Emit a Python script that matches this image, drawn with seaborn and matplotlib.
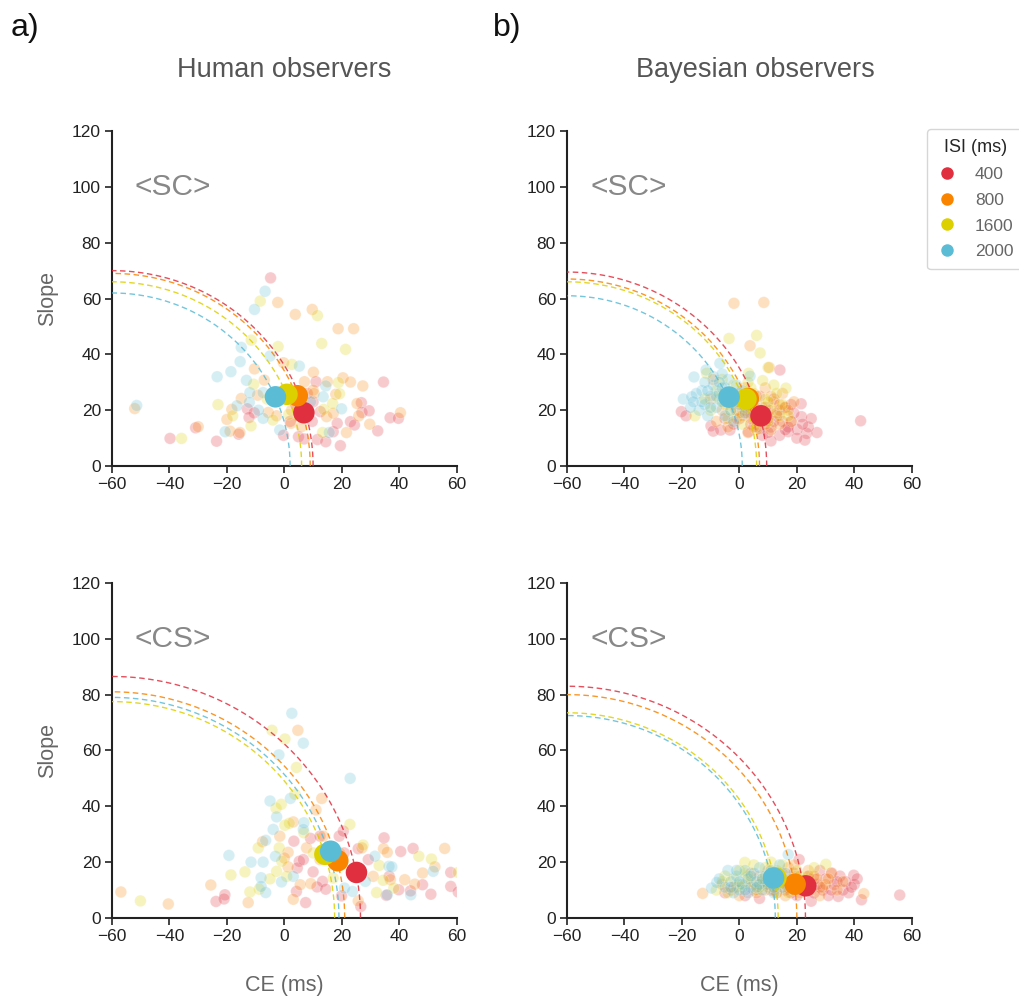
import numpy as np
import pandas as pd
import matplotlib
matplotlib.use("Agg")
import matplotlib.pyplot as plt
from matplotlib.lines import Line2D
import seaborn as sns

# ISI conditions and colours
isi_levels = [400, 800, 1600, 2000]
isi_colors = {400: "#E0303F", 800: "#F98400", 1600: "#DDD000", 2000: "#5BBCD6"}

# ---- individual observers: (CE, slope) per ISI ----
# Human, <SC>
hum_sc = {
    400: [(-4.8, 67.4), (11.0, 30.2), (34.5, 30.1), (-12.9, 20.5), (-10.5, 19.1), (-12.3, 17.4),
          (-15.9, 11.4), (-23.6, 8.9), (-30.9, 13.7), (-39.8, 9.9), (-0.3, 11.0), (4.9, 10.5),
          (6.9, 9.7), (9.7, 16.0), (11.5, 9.5), (14.4, 8.7), (17.0, 12.3), (18.4, 15.3),
          (19.5, 7.3), (23.0, 15.9), (24.4, 14.7), (32.5, 12.6), (26.8, 22.7), (27.0, 19.2),
          (29.5, 19.8), (36.8, 17.3), (39.7, 17.1), (10.0, 23.0), (4.0, 22.0), (8.0, 26.0),
          (2.0, 16.0), (12.5, 19.5)],
    800: [(-2.3, 58.6), (3.8, 54.3), (9.7, 56.1), (18.7, 49.2), (24.1, 49.2), (-0.3, 37.0),
          (-10.4, 34.8), (10.1, 33.6), (-7.0, 30.8), (7.0, 30.2), (15.0, 30.2), (20.4, 31.6),
          (23.0, 30.1), (27.3, 28.7), (10.0, 27.2), (-9.3, 25.4), (-15.0, 24.2), (17.9, 25.7),
          (-52.1, 20.6), (-18.3, 20.3), (-20.0, 16.7), (-5.6, 19.2), (-2.7, 18.0), (-18.9, 12.5),
          (-15.5, 12.0), (-30.0, 14.1), (2.3, 15.3), (5.9, 14.1), (21.6, 12.0), (29.7, 15.0),
          (25.3, 22.4), (25.9, 18.0), (40.4, 19.1), (14.7, 17.7), (17.0, 18.9), (10.3, 26.0),
          (2.5, 20.0), (6.0, 24.0)],
    1600: [(-8.4, 59.1), (11.5, 53.9), (13.0, 43.9), (21.3, 41.8), (-11.5, 45.1), (-2.2, 42.8),
           (2.6, 36.4), (-10.7, 29.3), (18.8, 29.9), (19.2, 25.9), (-23.1, 22.0), (-18.0, 18.0),
           (-4.0, 16.5), (-11.6, 14.4), (-35.8, 9.9), (13.3, 12.0), (13.7, 20.3), (16.8, 22.4),
           (1.5, 18.5), (-6.0, 24.0), (7.0, 20.0)],
    2000: [(-6.7, 62.6), (-10.4, 56.1), (-15.0, 42.5), (-5.0, 39.4), (-15.4, 37.4), (5.2, 35.8),
           (-18.6, 33.8), (-23.4, 32.0), (-13.2, 30.7), (14.4, 28.7), (-12.0, 26.3), (-7.4, 26.3),
           (13.5, 24.8), (-12.2, 22.8), (-16.5, 21.6), (-51.4, 21.7), (-7.4, 17.1), (-20.6, 12.3),
           (-1.6, 12.9), (15.6, 12.0), (19.9, 20.5), (9.1, 23.0), (-9.0, 20.0)],
}

# Bayesian, <SC>
bay_sc = {
    400: [(14.1, 34.4), (21.5, 22.3), (21.6, 17.7), (23.4, 11.7), (27.0, 12.0), (22.8, 9.3),
          (42.2, 16.2), (-20.2, 19.5), (-18.6, 18.0), (-9.9, 14.4), (-9.1, 12.5), (-6.5, 12.9),
          (-3.3, 12.9), (3.1, 12.3), (7.1, 13.5), (17.0, 12.3), (20.1, 13.1), (18.1, 15.9),
          (0, 17), (2, 20), (4, 15), (5, 22), (6, 18), (8, 11), (9, 16), (10, 20), (11, 14),
          (12, 24), (13, 18), (14, 11), (15, 16), (16, 21), (19, 19), (-2, 15), (-5, 17),
          (1, 24), (7, 25), (17, 14), (24, 14), (20, 10), (11, 9), (25, 17),
          (3, 19), (6, 14), (9, 21), (12, 16), (14, 20), (16, 13), (18, 22), (10, 12), (-1, 20),
          (22, 15)],
    800: [(-1.9, 58.3), (8.5, 58.6), (3.7, 43.1), (10.4, 35.3), (-9.1, 31.0), (-6, 20), (-3, 25),
          (-1, 17), (1, 22), (2, 28), (4, 19), (5, 14), (6, 25), (8, 21), (9, 28), (10, 17),
          (12, 23), (13, 19), (15, 26), (16, 21), (18, 16), (-8, 16), (-4, 14), (0, 26), (3, 12),
          (7, 16), (11, 13), (14, 15), (19, 23), (-10, 24),
          (-2, 22), (1, 18), (5, 24), (7, 19), (9, 15), (11, 25), (14, 22), (17, 20), (-5, 26),
          (4, 17)],
    1600: [(6.0, 46.8), (-3.6, 45.7), (7.2, 40.5), (10.0, 35.3), (-11.4, 33.2), (3.2, 33.2),
           (8.1, 30.6), (16.2, 27.9), (-15.5, 18.0), (-8, 27), (-5, 22), (-2, 29), (0, 19),
           (2, 25), (4, 28), (5, 21), (7, 17), (9, 24), (11, 20), (13, 26), (15, 22), (-10, 20),
           (-4, 17), (1, 15), (6, 13), (10, 16), (12, 29), (-6, 31), (3, 30), (17, 18), (-12, 24),
           (-7, 24), (-3, 20), (0, 25), (2, 21), (5, 26), (8, 20), (10, 23), (14, 18), (-1, 23),
           (6, 16)],
    2000: [(-15.8, 31.9), (-11.6, 34.4), (-6.8, 36.8), (-19.5, 24.0), (-16.6, 24.8), (-13, 27),
           (-12, 22), (-10, 25), (-9, 29), (-8, 21), (-7, 26), (-6, 23), (-5, 28), (-4, 31),
           (-3, 20), (-2, 26), (-1, 29), (0, 22), (1, 27), (-14, 20), (-11, 18), (-17, 21),
           (3.7, 32.2), (-5, 18), (-9, 32), (2, 19), (-12, 30), (-6, 33), (4, 25), (-2, 16),
           (-15, 26), (-13, 23), (-10, 21), (-8, 25), (-6, 28), (-4, 24), (-1, 24), (-7, 30),
           (-11, 27), (-16, 23)],
}

# Human, <CS>
hum_cs = {
    400: [(3.3, 27.5), (9.1, 28.5), (12.4, 29.3), (19.1, 29.3), (20.5, 31.1), (34.7, 28.7),
          (5.2, 20.3), (4.5, 17.9), (6.6, 20.9), (10.0, 16.5), (13.3, 13.1), (11.4, 11.1),
          (14.4, 10.3), (4.2, 9.5), (7.4, 5.5), (-20.7, 8.3), (-23.8, 5.9), (-21.0, 6.8),
          (26.6, 4.1), (19.9, 7.9), (20.8, 23.3), (25.7, 24.8), (29.2, 20.9), (40.5, 23.8),
          (44.8, 24.9), (57.9, 16.3), (57.9, 11.3), (60.5, 9.3), (51.0, 8.5), (48.1, 11.9),
          (43.9, 9.7), (39.8, 10.1), (35.5, 8.1), (36.5, 14.9)],
    800: [(4.7, 67.2), (13.0, 42.8), (11.0, 38.7), (3.1, 34.4), (-7.6, 27.3), (-1.6, 29.3),
          (13.5, 29.3), (1.3, 23.5), (0.0, 21.5), (1.3, 18.3), (7.7, 25.1), (12.4, 20.9),
          (5.5, 11.9), (9.2, 12.3), (3.1, 6.7), (-25.6, 11.8), (-12.6, 5.5), (-56.9, 9.3),
          (-40.4, 5.0), (25.7, 6.1), (19.3, 23.3), (27.0, 25.1), (34.5, 24.8), (35.8, 23.5),
          (52.4, 18.3), (55.8, 24.9), (48.1, 16.1), (45.4, 12.1), (41.9, 13.7), (36.9, 13.7),
          (30.9, 14.9)],
    1600: [(-4.3, 67.2), (0.2, 64.1), (4.2, 53.9), (3.7, 44.3), (-2.9, 39.3), (-1.1, 40.7),
           (0.2, 33.2), (1.7, 33.9), (6.8, 30.5), (22.8, 33.5), (-9.1, 25.1), (-1.8, 25.1),
           (-0.9, 20.3), (10.0, 23.3), (-13.7, 16.5), (-18.6, 15.4), (-2.7, 16.7), (-5.0, 14.0),
           (0.8, 14.9), (-50.1, 6.1), (-12.0, 9.3), (-8.8, 10.3), (17.0, 14.3), (27.4, 26.1),
           (33.0, 18.8), (46.8, 22.1), (51.2, 21.1), (60.5, 16.3), (32.1, 9.1), (34.4, 13.5),
           (38.1, 10.7)],
    2000: [(2.6, 73.3), (6.6, 62.6), (-1.9, 58.4), (22.9, 50.0), (2.1, 42.8), (-5.0, 41.9),
           (-2.7, 36.2), (6.8, 34.1), (6.6, 31.7), (-3.9, 31.7), (-6.5, 27.8), (-3.1, 22.1),
           (-7.4, 20.0), (-11.6, 20.0), (-19.3, 22.4), (3.1, 14.9), (-8.1, 14.4), (-1.0, 12.9),
           (-6.5, 9.1), (-8.1, 11.3), (20.9, 10.7), (23.7, 9.5), (31.5, 22.1), (36.4, 18.5),
           (37.4, 18.3), (51.8, 16.7), (44.0, 8.3), (35.8, 8.3), (28.2, 13.1)],
}

# Bayesian, <CS>
bay_cs = {
    400: [(55.8, 8.2), (39.8, 15.3), (42.5, 6.5), (20.8, 20.9), (32.1, 16.1), (34.4, 7.7),
          (-5, 9), (-2, 11), (2, 8), (5, 10), (9, 12), (13, 9), (15, 14), (17, 11), (19, 16),
          (20, 8), (21, 13), (23, 10), (24, 15), (26, 9), (27, 12), (28, 17), (29, 10), (30, 14),
          (31, 8), (33, 12), (35, 15), (36, 10), (37, 13), (38, 9), (40, 12), (41, 14), (7, 7),
          (25, 6), (11, 10), (14, 13), (18, 9), (22, 12), (26, 14), (28, 11), (32, 10), (34, 13),
          (39, 11), (16, 10)],
    800: [(-12.8, 8.8), (43.3, 8.7), (-3, 10), (0, 8), (2, 12), (4, 16), (6, 9), (8, 13),
          (10, 17), (12, 10), (14, 14), (16, 8), (17, 18), (18, 11), (20, 15), (21, 9), (22, 13),
          (24, 17), (25, 10), (27, 14), (28, 8), (30, 12), (32, 16), (34, 10), (-6, 12), (11, 12),
          (19, 19), (36, 13), (5, 12), (7, 15), (9, 10), (13, 12), (15, 16), (19, 13), (23, 11),
          (26, 15), (29, 11), (31, 14)],
    1600: [(1.9, 19.9), (30.1, 19.2), (-8, 10), (-6, 13), (-4, 9), (-2, 14), (0, 17), (1, 11),
           (3, 15), (5, 19), (6, 10), (8, 14), (9, 18), (10, 11), (12, 16), (14, 12), (15, 19),
           (17, 9), (18, 14), (20, 17), (22, 11), (24, 15), (26, 18), (-1, 11), (4, 13), (11, 20),
           (13, 9), (-5, 15), (0, 12), (2, 16), (7, 11), (9, 13), (13, 17), (16, 12), (19, 10),
           (21, 15), (23, 13)],
    2000: [(-9.7, 10.7), (-7.9, 12.7), (17.0, 22.7), (-5, 11), (-3, 13), (-1, 15), (0, 10),
           (1, 12), (2, 17), (3, 14), (4, 11), (5, 16), (6, 13), (7, 18), (8, 10), (9, 15),
           (10, 12), (11, 17), (12, 9), (13, 14), (14, 19), (15, 11), (16, 16), (-4, 17), (3, 9),
           (18, 13), (7, 12), (-2, 9), (-7, 14), (-3, 11), (0, 13), (2, 10), (4, 15), (6, 11),
           (8, 14), (10, 15), (12, 11), (-1, 17)],
}

# group means (CE, slope)
means_hum_sc = {400: (6.8, 19.1), 800: (4.5, 25.2), 1600: (0.9, 25.7), 2000: (-3.1, 24.8)}
means_bay_sc = {400: (7.5, 18.0), 800: (3.1, 24.2), 1600: (2.3, 24.0), 2000: (-3.6, 24.7)}
means_hum_cs = {400: (25.1, 16.3), 800: (18.6, 20.5), 1600: (14.1, 22.8), 2000: (16.1, 23.9)}
means_bay_cs = {400: (23.1, 11.5), 800: (19.4, 12.1), 1600: (12.7, 14.3), 2000: (11.9, 14.3)}

# radii of the dashed reference arcs (centred at CE=-60, slope=0)
radii_hum_sc = {400: 70.0, 800: 69.0, 1600: 66.0, 2000: 62.0}
radii_bay_sc = {400: 69.5, 800: 67.0, 1600: 66.0, 2000: 61.0}
radii_hum_cs = {400: 86.5, 800: 81.0, 1600: 77.5, 2000: 79.0}
radii_bay_cs = {400: 83.0, 800: 80.0, 1600: 73.5, 2000: 72.5}


def to_df(d):
    rows = [(ce, sl, isi) for isi in isi_levels for ce, sl in d[isi]]
    return pd.DataFrame(rows, columns=["CE", "Slope", "ISI"])


sns.set_theme(style="ticks")
plt.rcParams["font.family"] = ["Liberation Sans", "DejaVu Sans"]

fig = plt.figure(figsize=(10.2, 9.98), dpi=100)
w, h = 0.338, 0.3357
positions = [(0.1098, 0.533), (0.5559, 0.533), (0.1098, 0.0802), (0.5559, 0.0802)]
panels = [
    (hum_sc, means_hum_sc, radii_hum_sc, "<SC>"),
    (bay_sc, means_bay_sc, radii_bay_sc, "<SC>"),
    (hum_cs, means_hum_cs, radii_hum_cs, "<CS>"),
    (bay_cs, means_bay_cs, radii_bay_cs, "<CS>"),
]

theta = np.linspace(0, np.pi / 2, 200)
for i, ((pts, means, radii, tag), (x0, y0)) in enumerate(zip(panels, positions)):
    ax = fig.add_axes([x0, y0, w, h])
    df = to_df(pts)
    sns.scatterplot(data=df, x="CE", y="Slope", hue="ISI", palette=isi_colors, s=70,
                    alpha=0.25, edgecolor="white", linewidth=0.6, legend=False, ax=ax)
    for isi in isi_levels:
        r = radii[isi]
        ax.plot(-60 + r * np.cos(theta), r * np.sin(theta), ls=(0, (4, 2.5)), lw=1.0,
                color=isi_colors[isi], alpha=0.85, zorder=3)
    mdf = pd.DataFrame([(means[k][0], means[k][1], k) for k in isi_levels],
                       columns=["CE", "Slope", "ISI"])
    sns.scatterplot(data=mdf, x="CE", y="Slope", hue="ISI", palette=isi_colors, s=240,
                    edgecolor="none", legend=False, ax=ax, zorder=5)
    ax.set_xlim(-60, 60)
    ax.set_ylim(0, 120)
    ax.set_xticks(range(-60, 61, 20))
    ax.set_yticks(range(0, 121, 20))
    ax.tick_params(labelsize=12.5, colors="#222222", length=5, width=1.2, pad=3)
    for sp in ["left", "bottom"]:
        ax.spines[sp].set_linewidth(1.5)
        ax.spines[sp].set_color("#222222")
    sns.despine(ax=ax)
    ax.text(-52, 100, tag, fontsize=21.5, color="#888888", va="center", ha="left")
    if i % 2 == 0:
        ax.set_ylabel("Slope", fontsize=15.5, color="#666666")
        ax.yaxis.set_label_coords(-0.155, 0.5)
    else:
        ax.set_ylabel("")
    if i >= 2:
        ax.set_xlabel("CE (ms)", fontsize=15.5, color="#666666")
        ax.xaxis.set_label_coords(0.5, -0.17)
    else:
        ax.set_xlabel("")

fig.text(0.01, 1 - 28 / 998, "a)", fontsize=23, va="center", ha="left", color="#111111")
fig.text(0.483, 1 - 28 / 998, "b)", fontsize=23, va="center", ha="left", color="#111111")
fig.text(284 / 1020, 1 - 70 / 998, "Human observers", fontsize=19.5, color="#555555",
         ha="center", va="center")
fig.text(755 / 1020, 1 - 70 / 998, "Bayesian observers", fontsize=19.5, color="#555555",
         ha="center", va="center")

handles = [Line2D([], [], marker="o", ls="none", markersize=9, markerfacecolor=isi_colors[k],
                  markeredgecolor="none") for k in isi_levels]
leg = fig.legend(handles, [str(k) for k in isi_levels], title="ISI (ms)", loc="upper left",
                 bbox_to_anchor=(0.909, 0.8705), fontsize=12.5, title_fontsize=13,
                 frameon=True, labelcolor="#666666", handlelength=1.2, handletextpad=1.0,
                 borderpad=0.55, labelspacing=0.62, borderaxespad=0)
leg.get_frame().set_edgecolor("#cccccc")

fig.savefig("out.png", dpi=100)
